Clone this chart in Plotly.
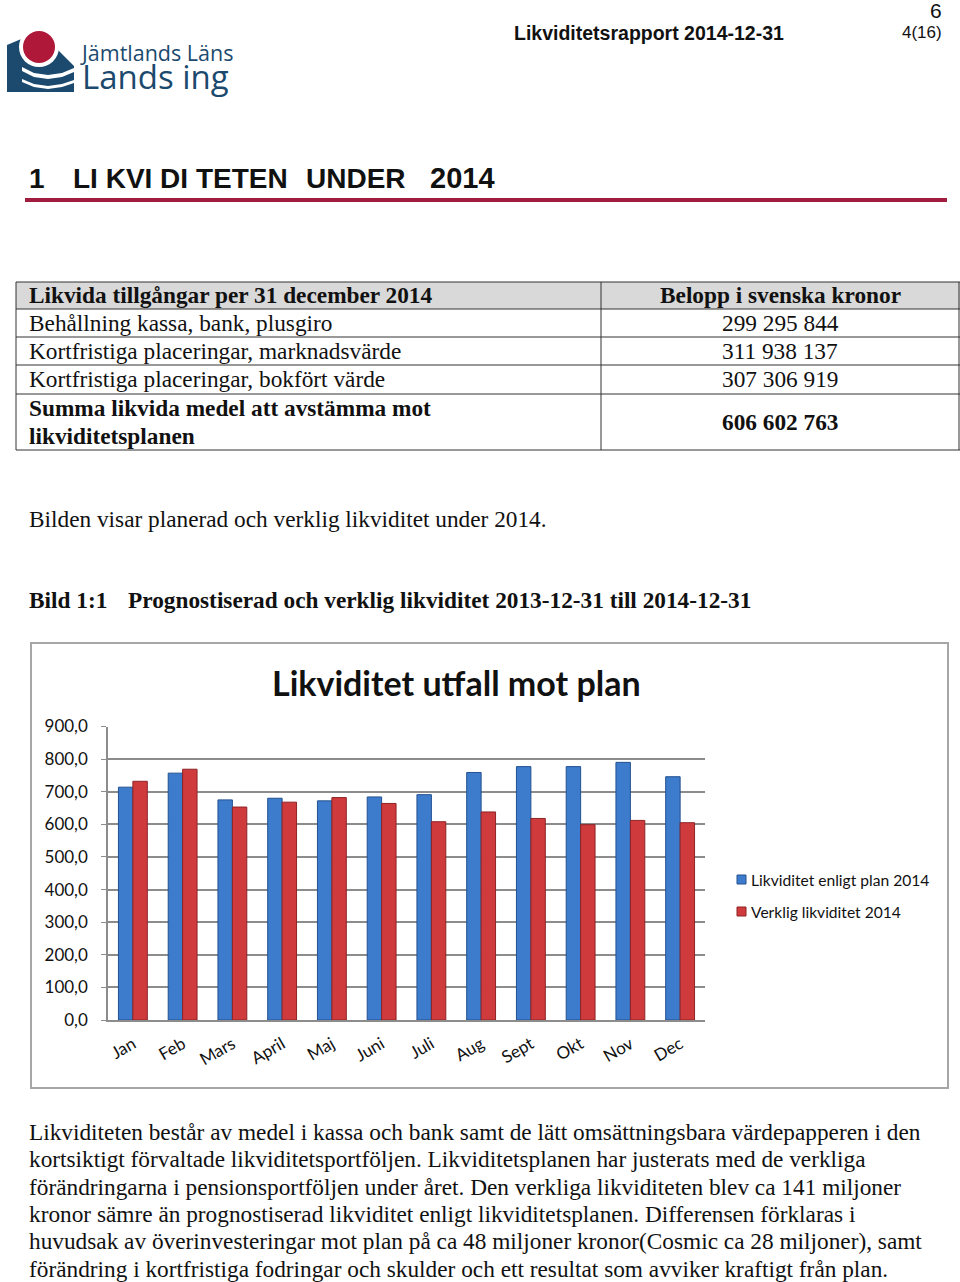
import plotly.graph_objects as go

W, H = 960, 1282

# ---------------- data ----------------
months = ["Jan", "Feb", "Mars", "April", "Maj", "Juni", "Juli", "Aug", "Sept", "Okt", "Nov", "Dec"]
plan_2014 = [714, 757, 675, 680, 672, 684, 691, 759, 777, 777, 790, 746]
actual_2014 = [732, 769, 653, 668, 682, 664, 608, 638, 618, 599, 612, 605]
series_names = ["Likviditet enligt plan 2014", "Verklig likviditet 2014"]
y_ticks = [0, 100, 200, 300, 400, 500, 600, 700, 800, 900]

table_header = ["Likvida tillgångar per 31 december 2014", "Belopp i svenska kronor"]
table_labels = ["Behållning kassa, bank, plusgiro",
                "Kortfristiga placeringar, marknadsvärde",
                "Kortfristiga placeringar, bokfört värde"]
table_values = ["299 295 844", "311 938 137", "307 306 919"]
sum_label = ["Summa likvida medel att avstämma mot", "likviditetsplanen"]
sum_value = "606 602 763"

body_lines = [
    "Likviditeten består av medel i kassa och bank samt de lätt omsättningsbara värdepapperen i den",
    "kortsiktigt förvaltade likviditetsportföljen. Likviditetsplanen har justerats med de verkliga",
    "förändringarna i pensionsportföljen under året. Den verkliga likviditeten blev ca 141 miljoner",
    "kronor sämre än prognostiserad likviditet enligt likviditetsplanen. Differensen förklaras i",
    "huvudsak av överinvesteringar mot plan på ca 48 miljoner kronor(Cosmic ca 28 miljoner), samt",
    "förändring i kortfristiga fodringar och skulder och ett resultat som avviker kraftigt från plan.",
]

BLUE = "#3d7ccd"
RED = "#cf3a3c"
SERIF = "Liberation Serif"
SANS = "Lato"
FS = 23.3  # serif body size


def px(x):
    return x / W


def py(y):
    return 1 - y / H


fig = go.Figure()
fig.add_trace(go.Bar(x=months, y=plan_2014, name=series_names[0],
                     marker=dict(color=BLUE, line=dict(color="#23508f", width=1)),
                     showlegend=False))
fig.add_trace(go.Bar(x=months, y=actual_2014, name=series_names[1],
                     marker=dict(color=RED, line=dict(color="#8e2325", width=1)),
                     showlegend=False))

ann = []
shapes = []


def text(x, y, s, size, family=SERIF, bold=False, color="#111111", xanchor="left", yanchor="middle"):
    if bold:
        s = "<b>" + s + "</b>"
    ann.append(dict(x=px(x), y=py(y), xref="paper", yref="paper", text=s, showarrow=False,
                    xanchor=xanchor, yanchor=yanchor, align="left",
                    font=dict(family=family, size=size, color=color)))


def line(x0, y0, x1, y1, color="#222222", width=1):
    shapes.append(dict(type="line", xref="paper", yref="paper",
                       x0=px(x0), y0=py(y0), x1=px(x1), y1=py(y1),
                       line=dict(color=color, width=width)))


def rect(x0, y0, x1, y1, fill, lc=None, lw=0):
    shapes.append(dict(type="rect", xref="paper", yref="paper",
                       x0=px(x0), y0=py(y0), x1=px(x1), y1=py(y1),
                       fillcolor=fill, line=dict(color=lc or fill, width=lw), layer="below"))


def path(d, fill):
    pts = " L ".join(f"{px(x):.5f},{py(y):.5f}" for x, y in d)
    shapes.append(dict(type="path", xref="paper", yref="paper", path="M " + pts + " Z",
                       fillcolor=fill, line=dict(width=0), layer="above"))


def circle(cx, cy, r, fill):
    shapes.append(dict(type="circle", xref="paper", yref="paper",
                       x0=px(cx - r), x1=px(cx + r), y0=py(cy + r), y1=py(cy - r),
                       fillcolor=fill, line=dict(width=0), layer="above"))


# ---------------- header ----------------
LOGO = "#1c4a6e"
path([(7, 45), (26, 37), (50, 37), (58, 50), (74, 66), (74, 92), (7, 92)], LOGO)
circle(39, 47, 20, "white")
circle(39, 47, 16, "#b0183a")
path([(22, 67), (34, 73), (48, 75), (62, 73), (74, 68), (74, 72), (62, 77), (48, 79), (34, 77), (22, 71)], "white")
path([(22, 79), (34, 84), (48, 86), (62, 84), (74, 80), (74, 83), (62, 87), (48, 89), (34, 87), (22, 82)], "white")
text(78, 68, "Jämtlands Läns<br><span style='font-size:33px'>Lands ing</span>", 21.5,
     family="Open Sans", color=LOGO)

text(512, 33, "Likviditetsrapport 2014-12-31", 19.5, family="Liberation Sans", bold=True)
text(944, 33, "4(16)", 17, family="Liberation Sans", xanchor="right")
text(944, 10, "6", 21, family="Liberation Sans", xanchor="right")

text(27, 178, "1", 28, family="Liberation Sans", bold=True)
text(71, 178, "LI KVI DI TETEN", 28, family="Liberation Sans", bold=True)
text(304, 178, "UNDER", 28, family="Liberation Sans", bold=True)
text(428, 178, "2014", 29, family="Liberation Sans", bold=True)
line(25, 200, 947, 200, color="#a11d40", width=4)

# ---------------- table ----------------
rect(16, 282, 960, 309, "#d9d9d9")
rows = [282, 309, 337, 365, 394, 450]
for yy in rows:
    line(16, yy, 960, yy, color="#333333", width=1)
line(16, 282, 16, 450, color="#333333", width=1)
line(959, 282, 959, 450, color="#333333", width=1)
line(601, 282, 601, 450, color="#333333", width=1)
text(27, 295, table_header[0], FS, bold=True)
text(780, 295, table_header[1], FS, bold=True, xanchor="center")
for i, (lab, val) in enumerate(zip(table_labels, table_values)):
    yc = (rows[i + 1] + rows[i + 2]) / 2
    text(27, yc, lab, FS)
    text(780, yc, val, FS, xanchor="center")
text(27, 408, sum_label[0], FS, bold=True)
text(27, 436, sum_label[1], FS, bold=True)
text(780, 422, sum_value, FS, bold=True, xanchor="center")

text(27, 519, "Bilden visar planerad och verklig likviditet under 2014.", FS)
text(27, 600, "Bild 1:1", FS, bold=True)
text(126, 600, "Prognostiserad och verklig likviditet 2013-12-31 till 2014-12-31", FS, bold=True)

# ---------------- chart frame ----------------
shapes.append(dict(type="rect", xref="paper", yref="paper", x0=px(31), x1=px(948), y0=py(1088), y1=py(643),
                   line=dict(color="#a6a6a6", width=2), fillcolor="rgba(0,0,0,0)", layer="below"))
text(456, 682, "Likviditet utfall mot plan", 34, family=SANS, bold=True, color="#111111", xanchor="center")

# legend (manual)
rect(737, 875, 746, 884, BLUE, "#23508f", 1)
rect(737, 907, 746, 916, RED, "#8e2325", 1)
text(749, 880, series_names[0], 15.6, family=SANS, color="#111111")
text(749, 912, series_names[1], 15.6, family=SANS, color="#111111")

# body text
for i, s in enumerate(body_lines):
    text(27, 1132 + i * 27.3, s, FS)

fig.update_layout(
    width=W, height=H,
    margin=dict(l=0, r=0, t=0, b=0, autoexpand=False),
    paper_bgcolor="white", plot_bgcolor="white",
    separators=", ",
    barmode="group", bargap=0.42, bargroupgap=0.0,
    annotations=ann, shapes=shapes,
    xaxis=dict(domain=[px(108), px(705)], tickangle=-30, showgrid=False,
               showline=True, linecolor="#8c8c8c", linewidth=1.5,
               tickfont=dict(family=SANS, size=17, color="#111111"),
               ticklabelstandoff=6, fixedrange=True, automargin=False),
    yaxis=dict(domain=[py(1020), py(726.5)], range=[0, 900], tickvals=y_ticks,
               tickformat=".1f", showgrid=True, gridcolor="#8c8c8c", gridwidth=1.5,
               showline=True, linecolor="#8c8c8c", linewidth=1.5,
               ticks="outside", ticklen=5, tickcolor="#8c8c8c",
               tickfont=dict(family=SANS, size=17, color="#111111"),
               ticklabelstandoff=10, zeroline=False, fixedrange=True, automargin=False),
    font=dict(family=SANS),
)

fig.write_html("out.html", config={"displayModeBar": False},
               post_script="document.body.style.margin='0px';document.body.style.overflow='hidden';")
